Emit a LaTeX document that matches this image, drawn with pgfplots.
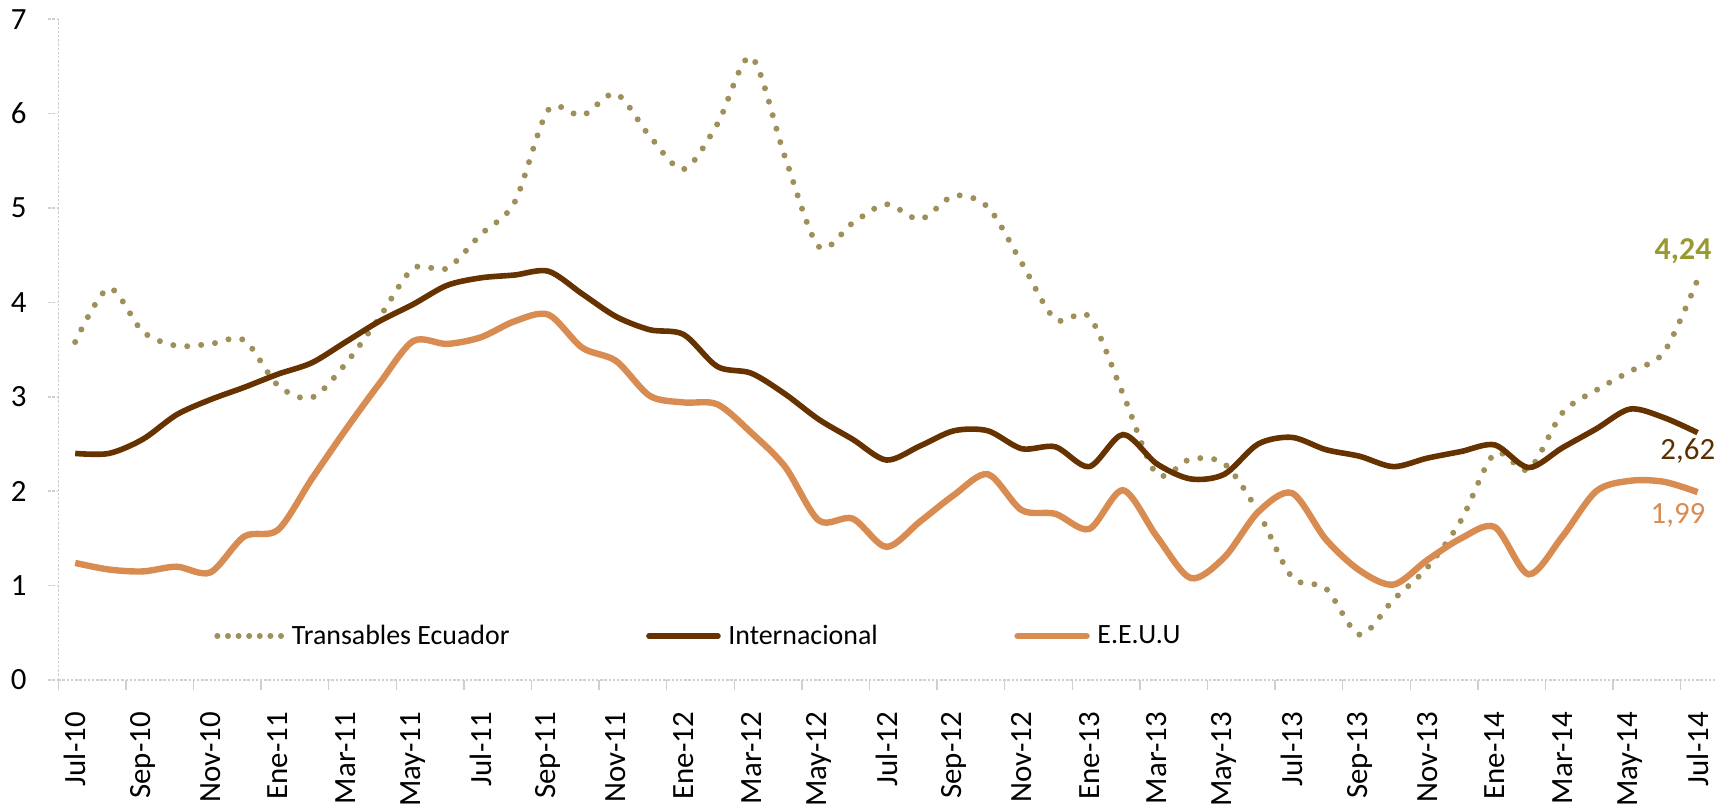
\documentclass[border=0pt]{standalone}
\usepackage{fontspec}
\setmainfont{Carlito}
\usepackage{pgfplots}
\usepackage{pgfplotstable}
\pgfplotsset{compat=1.18}
\definecolor{trans}{HTML}{9E8F5B}
\definecolor{intl}{HTML}{663300}
\definecolor{eeuu}{HTML}{D98C52}
\definecolor{olivelab}{HTML}{999933}
\definecolor{axgray}{HTML}{CFCFCF}

\pgfplotstableread{
i T I E
0 3.58 2.40 1.24
1 4.15 2.40 1.17
2 3.69 2.55 1.15
3 3.54 2.81 1.20
4 3.56 2.97 1.14
5 3.60 3.10 1.52
6 3.12 3.24 1.59
7 2.99 3.36 2.13
8 3.35 3.58 2.65
9 3.84 3.80 3.14
10 4.36 3.98 3.59
11 4.36 4.18 3.56
12 4.72 4.26 3.63
13 5.06 4.29 3.80
14 6.04 4.33 3.87
15 5.98 4.09 3.52
16 6.21 3.85 3.38
17 5.76 3.71 3.01
18 5.41 3.66 2.94
19 5.89 3.32 2.92
20 6.60 3.25 2.62
21 5.54 3.03 2.26
22 4.59 2.76 1.69
23 4.84 2.55 1.71
24 5.04 2.33 1.41
25 4.88 2.48 1.68
26 5.13 2.64 1.96
27 5.01 2.64 2.18
28 4.42 2.45 1.80
29 3.82 2.47 1.76
30 3.85 2.26 1.60
31 3.03 2.60 2.01
32 2.18 2.29 1.52
33 2.34 2.13 1.08
34 2.29 2.18 1.30
35 1.78 2.50 1.78
36 1.09 2.57 1.98
37 0.97 2.44 1.49
38 0.48 2.37 1.16
39 0.85 2.26 1.01
40 1.19 2.35 1.27
41 1.69 2.42 1.50
42 2.40 2.49 1.62
43 2.23 2.25 1.12
44 2.83 2.46 1.52
45 3.07 2.66 2.00
46 3.27 2.87 2.11
47 3.47 2.78 2.10
48 4.24 2.62 1.99
}\datatable

\begin{document}
\begin{tikzpicture}
\begin{axis}[
  name=ax,
  scale only axis, width=828.1bp, height=330.4bp,
  xmin=-0.5, xmax=48.5, ymin=0, ymax=7,
  axis x line*=bottom, axis y line*=left,
  x axis line style={draw=axgray, line width=0.75bp, dash pattern=on 1.2bp off 0.9bp},
  y axis line style={draw=axgray, line width=0.75bp, dash pattern=on 1.2bp off 0.9bp},
  ytick={0,...,7},
  ytick style={draw=axgray, line width=0.75bp, dash pattern=on 1.2bp off 0.9bp},
  xtick={-0.5,1.5,...,47.5},
  xticklabels={},
  xtick style={draw=axgray, line width=0.75bp},
  tick align=outside, major tick length=5bp,
  extra x ticks={0,2,...,48},
  extra x tick labels={Jul-10,Sep-10,Nov-10,Ene-11,Mar-11,May-11,Jul-11,Sep-11,Nov-11,Ene-12,Mar-12,May-12,Jul-12,Sep-12,Nov-12,Ene-13,Mar-13,May-13,Jul-13,Sep-13,Nov-13,Ene-14,Mar-14,May-14,Jul-14},
  extra x tick style={major tick length=0pt},
  xticklabel style={rotate=90, anchor=east, inner sep=0pt, font=\fontsize{15.5}{18}\selectfont},
  yticklabel style={anchor=east, inner sep=0pt, font=\fontsize{15.5}{18}\selectfont},
  xticklabel shift=15.9bp, yticklabel shift=10.7bp,
  /pgf/number format/assume math mode=true,
  clip=false,
  legend columns=3,
  legend style={at={(0.094,0.0666)}, anchor=west, draw=none, fill=none, inner sep=0pt,
    font=\fontsize{14}{17}\selectfont, nodes={inner sep=0pt},
    /tikz/every odd column/.append style={column sep=3.8bp},
    /tikz/every even column/.append style={column sep=68.3bp}},
  legend image code/.code={\draw[#1, line cap=round] (0bp,0bp) -- (34.5bp,0bp);},
]
\addplot[trans, line width=3bp, line cap=round, dash pattern=on 0bp off 7bp, smooth,
  legend image code/.code={\draw[trans, line width=3bp, line cap=round, dash pattern=on 0bp off 5.3bp] (0bp,0bp) -- (32bp,0bp);}]
  table[x=i,y=T]{\datatable};
\addlegendentry{Transables Ecuador}
\addplot[intl, line width=2.8bp, smooth] table[x=i,y=I]{\datatable};
\addlegendentry{Internacional}
\addplot[eeuu, line width=3.2bp, smooth] table[x=i,y=E]{\datatable};
\addlegendentry{E.E.U.U}
\node[font=\fontsize{16}{19}\selectfont\bfseries, text=olivelab] at (axis cs:47.57,4.54) {4,24};
\node[font=\fontsize{15.5}{18}\selectfont, text=intl!90!black] at (axis cs:47.71,2.425) {2,62};
\node[font=\fontsize{15.5}{18}\selectfont, text=eeuu] at (axis cs:47.42,1.74) {1,99};
\end{axis}
\pgfresetboundingbox
\useasboundingbox ([shift={(-29.15bp,-64.5bp)}]ax.south west) rectangle ([shift={(9.75bp,9.6bp)}]ax.north east);
\end{tikzpicture}
\end{document}
